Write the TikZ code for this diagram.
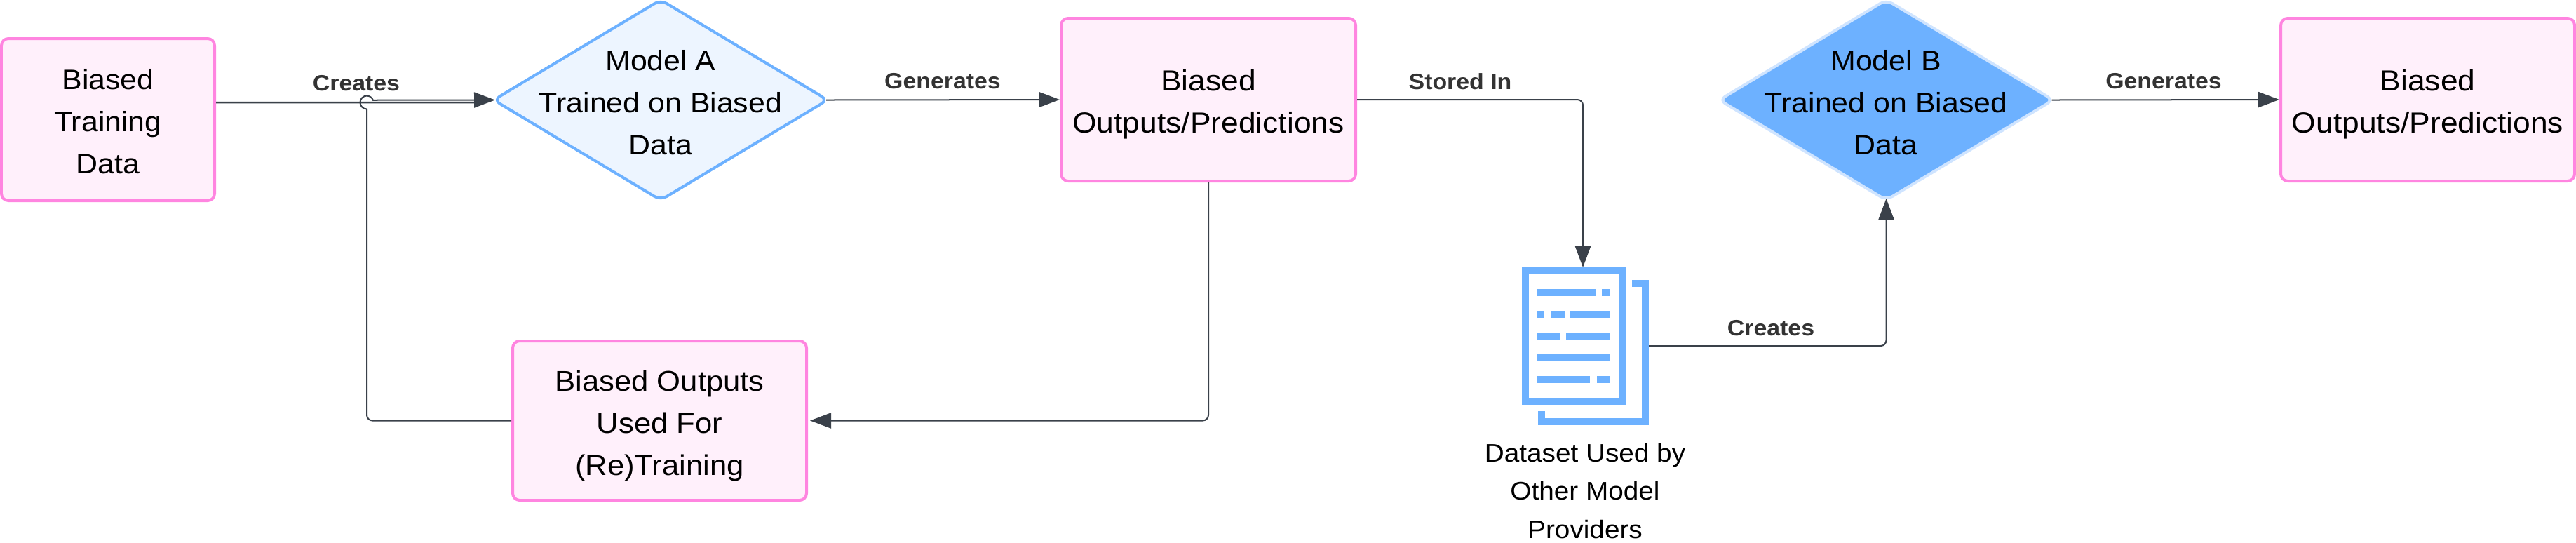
\documentclass[tikz,border=0pt]{standalone}
\usepackage{fontspec}
\setmainfont{Liberation Sans}[FakeStretch=1.07]
\usetikzlibrary{positioning,shapes.geometric,arrows.meta}

\definecolor{biaspink}{HTML}{FF85E0}
\definecolor{biasfill}{HTML}{FFF0FB}
\definecolor{modelblue}{HTML}{6DB1FF}
\definecolor{modelfill}{HTML}{EDF5FF}
\definecolor{modeledge}{HTML}{CFE4FF}
\definecolor{flowgrey}{HTML}{3A414A}
\definecolor{labelgrey}{HTML}{333333}

\newcommand{\lowerline}[1]{\rule{0pt}{#1}}

\tikzset{
    biasbox/.style={draw=biaspink, fill=biasfill, line width=0.04cm, rounded corners=1mm, align=center, inner sep=0pt, font=\fontsize{11.4}{17.07}\selectfont},
    modeldiamond/.style={diamond, aspect=1.67, inner sep=0pt, line width=0.04cm, rounded corners=1mm, minimum width=4.78cm, minimum height=2.87cm},
    modeltext/.style={align=center, font=\fontsize{11.4}{17.07}\selectfont},
    edgelabel/.style={text=labelgrey, font=\fontsize{9}{11}\selectfont\bfseries},
    flowline/.style={draw=flowgrey, line width=0.02cm, rounded corners=0.8mm},
    flowarrow/.style={flowline, -{Triangle[length=3mm,width=2.2mm]}}
}

\begin{document}
\begin{tikzpicture}
    \useasboundingbox (0,0) rectangle (36.73,-7.73);

    % Pink boxes
    \node[biasbox, minimum width=3.04cm, minimum height=2.31cm] (trainingdata) at (1.54,-1.705) {\lowerline{9.5pt}Biased\\Training\\Data};
    \node[biasbox, minimum width=4.20cm, minimum height=2.32cm, font=\fontsize{11.8}{17.07}\selectfont] (outputsA) at (17.23,-1.42) {\lowerline{12.5pt}Biased\\Outputs/Predictions};
    \node[biasbox, minimum width=4.19cm, minimum height=2.27cm, font=\fontsize{11.6}{17.07}\selectfont] (retrain) at (9.405,-5.995) {\lowerline{12.5pt}Biased Outputs\\Used For\\(Re)Training};
    \node[biasbox, minimum width=4.19cm, minimum height=2.32cm, font=\fontsize{11.8}{17.07}\selectfont] (outputsB) at (34.615,-1.42) {\lowerline{12.5pt}Biased\\Outputs/Predictions};

    % Diamonds
    \node[modeldiamond, draw=modelblue, fill=modelfill] (modelA) at (9.42,-1.425) {};
    \node[modeltext] (modelAtext) at (9.42,-1.46) {Model A\\Trained on Biased\\Data};
    \node[modeldiamond, draw=modeledge, fill=modelblue] (modelB) at (26.895,-1.425) {};
    \node[modeltext] (modelBtext) at (26.89,-1.46) {Model B\\Trained on Biased\\Data};

    % Dataset icon
    \node[draw=modelblue, line width=0.1cm, minimum width=1.38cm, minimum height=1.86cm, inner sep=0pt] (dataset) at (22.44,-4.79) {};
    \draw[modelblue, line width=0.1cm] (23.27,-4.04) -- (23.46,-4.04) -- (23.46,-6.01) -- (21.98,-6.01) -- (21.98,-5.86);
    \foreach \xa/\xb/\ya/\yb in {21.91/22.755/-4.12/-4.22, 22.835/22.96/-4.12/-4.22,
        21.91/22.02/-4.43/-4.53, 22.11/22.31/-4.43/-4.53, 22.38/22.96/-4.43/-4.53,
        21.91/22.25/-4.74/-4.84, 22.33/22.96/-4.74/-4.84,
        21.91/22.96/-5.05/-5.15,
        21.91/22.67/-5.36/-5.46, 22.77/22.96/-5.36/-5.46} {
        \fill[modelblue] (\xa,\ya) rectangle (\xb,\yb);
    }
    \node[align=center, font=\fontsize{10.3}{15.4}\selectfont] (datasettext) at (22.60,-7.00) {Dataset Used by\\Other Model\\Providers};

    % Connectors
    \coordinate (datajoin) at (6.78,-1.46);
    \coordinate (jump) at (5.23,-1.555);
    \coordinate (datasetout) at (23.51,-4.93);
    \draw[flowline, line width=0.025cm] ([yshift=2.45mm]trainingdata.east) -- (datajoin);
    \draw[flowline] (retrain.west) -| (jump);
    \draw[flowarrow, sharp corners, shorten >=-0.5mm] (jump) arc[start angle=270, end angle=20, radius=0.095] -- (modelA.west);
    \draw[flowarrow, shorten <=-0.5mm] (modelA.east) -- (outputsA.west);
    \draw[flowarrow, shorten >=0.3mm] (outputsA.south) |- (retrain.east);
    \draw[flowarrow] (outputsA.east) -| ([xshift=1.3mm]dataset.north);
    \draw[flowarrow, shorten >=-0.5mm] (datasetout) -| (modelB.south);
    \draw[flowarrow, shorten <=-0.5mm] (modelB.east) -- (outputsB.west);

    % Connector labels
    \node[edgelabel] (createsA) at (5.08,-1.19) {Creates};
    \node[edgelabel] (generatesA) at (13.44,-1.16) {Generates};
    \node[edgelabel] (storedin) at (20.82,-1.16) {Stored In};
    \node[edgelabel] (createsB) at (25.25,-4.68) {Creates};
    \node[edgelabel] (generatesB) at (30.85,-1.16) {Generates};
\end{tikzpicture}
\end{document}
